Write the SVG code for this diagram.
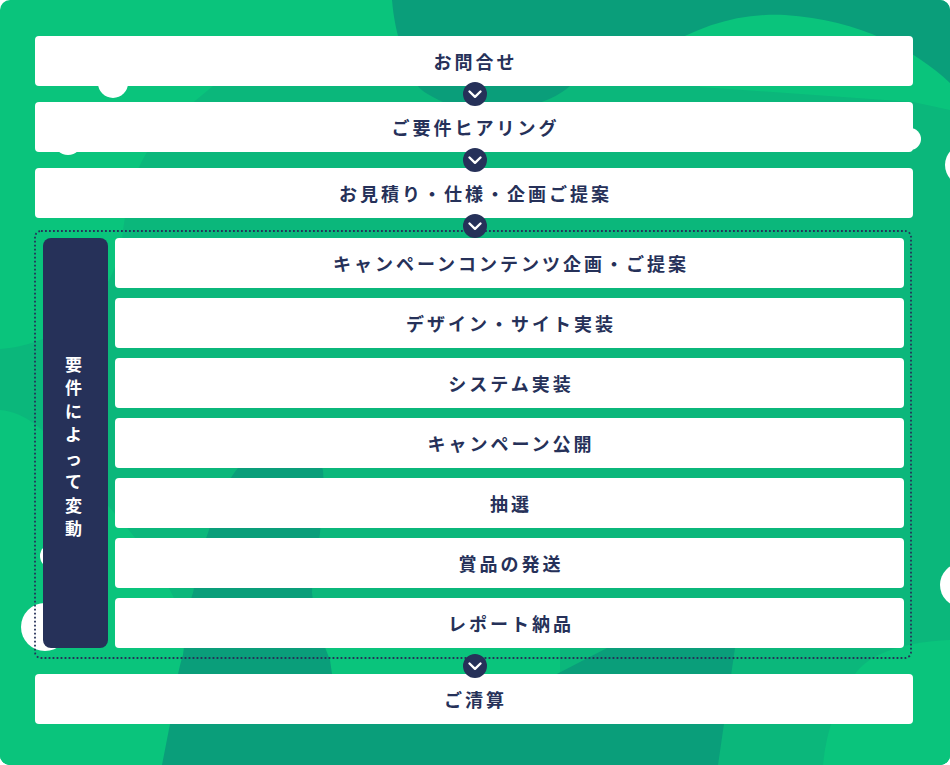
<svg xmlns="http://www.w3.org/2000/svg" width="950" height="765" viewBox="0 0 950 765">
  <style>
    .box { fill: #ffffff; }
    .lbl { font-family: "Noto Sans CJK JP", "Noto Sans", sans-serif; font-weight: 700; font-size: 18px; letter-spacing: 3px; fill: #263159; text-anchor: middle; dominant-baseline: central; }
    .vlbl { font-family: "Noto Sans CJK JP", "Noto Sans", sans-serif; font-weight: 700; font-size: 17px; fill: #ffffff; text-anchor: middle; dominant-baseline: central; }
    .chev-c { fill: #263159; }
    .chev-v { fill: none; stroke: #ffffff; stroke-width: 2.4; stroke-linecap: round; stroke-linejoin: round; }
    .dot { fill: #ffffff; }
  </style>
  <defs>
    <clipPath id="bgclip">
      <rect x="0" y="0" width="950" height="765" rx="10" ry="10"/>
    </clipPath>
  </defs>

  <g id="background" clip-path="url(#bgclip)">
    <rect x="0" y="0" width="950" height="765" fill="#0AC47C"/>
    <!-- mid green blob -->
    <path fill="#0BB77B" d="M 213,86 L 220,70 L 700,70 L 700,87 L 913,102 L 950,110 L 950,765 L 0,765 L 0,349 C 60,345 118,300 123,231 C 127,200 133,175 147,152 C 165,125 190,105 213,86 Z"/>
    <!-- lower-left light -->
    <path fill="#0AC47C" d="M 0,410 C 25,412 45,430 60,450 C 100,500 150,545 175,600 L 183,648 L 560,648 L 560,765 L 0,765 Z"/>
    <!-- bottom-right light -->
    <path fill="#0AC47C" d="M 950,640 C 900,642 868,655 855,674 C 838,700 826,730 823,765 L 950,765 Z"/>
    <!-- top dark -->
    <path fill="#0A9E7A" d="M 392,0 L 950,0 L 950,83 C 915,50 860,20 785,15 C 740,13 700,25 660,50 L 600,70 C 590,80 580,84 570,86 C 555,100 520,112 488,112 C 460,112 447,105 443,102 C 430,96 420,90 418,86 C 405,60 395,36 392,0 Z"/>
    <!-- left-lower dark -->
    <path fill="#0A9E7A" d="M 162,765 L 170,724 C 175,690 178,670 183,655 C 188,620 190,600 193,593 C 198,565 203,545 208,533 C 218,500 228,480 238,468 C 260,438 315,440 323,470 C 325,500 321,520 320,533 C 316,560 312,580 312,593 C 315,620 322,640 330,660 L 345,765 Z"/>
    <!-- bottom dark -->
    <path fill="#0A9E7A" d="M 330,700 L 526,690 L 607,648 L 661,620 L 735,620 L 735,648 L 718,765 L 330,765 Z"/>
    <!-- white dots -->
    <circle class="dot" cx="113" cy="83" r="15"/>
    <circle class="dot" cx="68" cy="141" r="14"/>
    <circle class="dot" cx="910" cy="139" r="11"/>
    <circle class="dot" cx="966" cy="165" r="21"/>
    <circle class="dot" cx="962" cy="585" r="22"/>
    <circle class="dot" cx="52" cy="556" r="12"/>
    <circle class="dot" cx="45" cy="627" r="24"/>
  </g>

  <g id="group-frame">
    <rect x="35" y="231" width="876" height="427" rx="6" ry="6" fill="none" stroke="#263159" stroke-width="1.8" stroke-dasharray="1.8 2.2"/>
  </g>

  <g id="variable-label">
    <rect x="43" y="238" width="65" height="410" rx="8" ry="8" fill="#263159"/>
    <text class="vlbl" x="73.5" y="363">要</text>
    <text class="vlbl" x="73.5" y="386.5">件</text>
    <text class="vlbl" x="73.5" y="410">に</text>
    <text class="vlbl" x="73.5" y="433.5">よ</text>
    <text class="vlbl" x="73.5" y="457">っ</text>
    <text class="vlbl" x="73.5" y="480.5">て</text>
    <text class="vlbl" x="73.5" y="504">変</text>
    <text class="vlbl" x="73.5" y="527.5">動</text>
  </g>

  <g id="node-inquiry">
    <rect class="box" x="35" y="36" width="878" height="50" rx="4"/>
    <text class="lbl" x="475.5" y="61">お問合せ</text>
  </g>
  <g id="node-hearing">
    <rect class="box" x="35" y="102" width="878" height="50" rx="4"/>
    <text class="lbl" x="475.5" y="127">ご要件ヒアリング</text>
  </g>
  <g id="node-estimate">
    <rect class="box" x="35" y="168" width="878" height="50" rx="4"/>
    <text class="lbl" x="475.5" y="193">お見積り・仕様・企画ご提案</text>
  </g>

  <g id="node-campaign-plan">
    <rect class="box" x="115" y="238" width="789" height="50" rx="4"/>
    <text class="lbl" x="511" y="263">キャンペーンコンテンツ企画・ご提案</text>
  </g>
  <g id="node-design">
    <rect class="box" x="115" y="298" width="789" height="50" rx="4"/>
    <text class="lbl" x="511" y="323">デザイン・サイト実装</text>
  </g>
  <g id="node-system">
    <rect class="box" x="115" y="358" width="789" height="50" rx="4"/>
    <text class="lbl" x="511" y="383">システム実装</text>
  </g>
  <g id="node-publish">
    <rect class="box" x="115" y="418" width="789" height="50" rx="4"/>
    <text class="lbl" x="511" y="443">キャンペーン公開</text>
  </g>
  <g id="node-lottery">
    <rect class="box" x="115" y="478" width="789" height="50" rx="4"/>
    <text class="lbl" x="511" y="503">抽選</text>
  </g>
  <g id="node-shipping">
    <rect class="box" x="115" y="538" width="789" height="50" rx="4"/>
    <text class="lbl" x="511" y="563">賞品の発送</text>
  </g>
  <g id="node-report">
    <rect class="box" x="115" y="598" width="789" height="50" rx="4"/>
    <text class="lbl" x="511" y="623">レポート納品</text>
  </g>

  <g id="node-settlement">
    <rect class="box" x="35" y="674" width="878" height="50" rx="4"/>
    <text class="lbl" x="475.5" y="699">ご清算</text>
  </g>

  <g id="connectors">
    <g transform="translate(475,94)">
      <circle class="chev-c" r="12"/>
      <polyline class="chev-v" points="-5.5,-2.5 0,2.8 5.5,-2.5"/>
    </g>
    <g transform="translate(475,160)">
      <circle class="chev-c" r="12"/>
      <polyline class="chev-v" points="-5.5,-2.5 0,2.8 5.5,-2.5"/>
    </g>
    <g transform="translate(475,226)">
      <circle class="chev-c" r="12"/>
      <polyline class="chev-v" points="-5.5,-2.5 0,2.8 5.5,-2.5"/>
    </g>
    <g transform="translate(475,666)">
      <circle class="chev-c" r="12"/>
      <polyline class="chev-v" points="-5.5,-2.5 0,2.8 5.5,-2.5"/>
    </g>
  </g>
</svg>
